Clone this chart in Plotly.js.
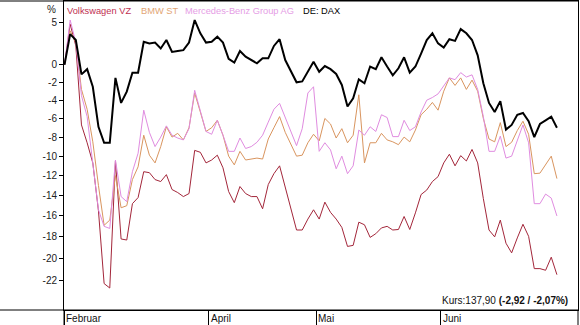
<!DOCTYPE html>
<html><head><meta charset="utf-8">
<script src="https://cdn.plot.ly/plotly-3.0.1.min.js"></script>
<style>html,body{margin:0;padding:0;background:#fff}#chart{width:580px;height:325px}</style>
</head><body><div id="chart"></div>
<script>
// Percent change since start (24.02.2022), one value per trading day
const vwVz = [0,4.8,2.2,-6.7,-8.6,-10.7,-15.5,-22.3,-22.7,-10.5,-18.2,-18.3,-14.8,-14.2,-11.6,-11.7,-12.4,-12.6,-11.9,-13.4,
  -13.7,-14.1,-13.8,-9.4,-9.6,-10.7,-10.4,-9.9,-11.2,-13.6,-14.7,-13.1,-13.8,-14.1,-14.1,-15.3,-12.9,-11.8,-11.0,-13.2,
  -15.2,-17.35,-17.35,-16.3,-15.4,-16.3,-14.65,-15.65,-16.3,-17.1,-18.9,-18.8,-16.6,-16.85,-18.05,-17.7,-17.15,-17.0,-17.35,-17.3,
  -16.05,-17.3,-15.7,-13.9,-13.45,-12.6,-12.1,-10.7,-9.8,-11.0,-9.95,-10.5,-9.3,-10.7,-14.3,-17.35,-18.0,-16.4,-18.6,-19.5,
  -18.1,-16.8,-17.95,-20.95,-20.95,-21.1,-19.9,-21.5];
const bmwSt = [0,4.0,2.6,-2.8,-5.0,-8.5,-13.0,-16.9,-16.4,-12.0,-15.2,-15.0,-12.4,-11.1,-7.8,-9.9,-10.7,-9.0,-6.9,-8.0,
  -7.6,-8.3,-7.0,-3.2,-5.3,-7.4,-7.0,-6.2,-7.8,-10.0,-10.9,-9.5,-10.4,-10.3,-10.2,-10.3,-8.2,-7.0,-5.8,-7.5,
  -8.8,-10.0,-9.9,-8.6,-7.7,-8.4,-6.0,-6.6,-8.1,-7.1,-8.6,-7.8,-3.4,-10.7,-8.6,-8.6,-7.6,-8.3,-8.5,-8.8,
  -8.0,-8.5,-7.25,-5.6,-5.0,-4.25,-5.1,-3.0,-1.5,-2.35,-1.5,-2.8,-1.75,-3.0,-6.0,-8.2,-8.5,-6.45,-9.0,-8.55,
  -7.3,-6.3,-7.7,-11.8,-11.75,-10.9,-10.0,-12.3];
const mercedes = [0,5.3,2.6,-3.5,-5.8,-10.5,-15.4,-17.0,-17.2,-10.4,-14.1,-14.6,-11.6,-9.7,-5.1,-7.5,-9.0,-8.0,-6.8,-7.8,
  -8.1,-8.3,-7.1,-2.9,-5.1,-7.4,-7.7,-6.2,-7.8,-9.5,-9.5,-8.1,-9.2,-9.0,-8.55,-7.8,-6.4,-5.0,-4.35,-5.9,
  -7.6,-8.9,-7.1,-3.2,-2.5,-9.5,-8.6,-9.35,-11.3,-10.0,-11.8,-11.0,-7.25,-7.8,-6.9,-7.4,-5.6,-5.9,-7.95,-7.95,
  -6.2,-7.3,-6.9,-5.3,-4.0,-3.7,-3.3,-2.4,-1.5,-1.7,-0.9,-1.4,-1.15,-2.8,-5.8,-9.5,-9.5,-7.9,-10.2,-10.0,
  -8.3,-6.7,-8.6,-14.8,-14.8,-13.85,-14.25,-16.0];
const daxIdx = [0,3.6,2.9,-1.1,-0.5,-2.5,-6.9,-8.6,-8.6,-1.5,-4.3,-3.05,-0.9,-0.9,2.7,2.5,2.6,1.9,2.9,1.5,
  1.6,1.7,2.6,5.3,3.7,2.6,2.7,3.3,2.6,0.7,0.25,1.6,0.94,0.56,0.17,0.75,0.75,2.2,3.0,0.55,
  -0.8,-2.0,-1.9,-0.7,0.36,-0.8,-0.14,-0.5,-1.05,-2.3,-4.7,-3.8,-1.66,-2.1,-0.2,-0.5,0.87,-0.2,-1.2,-0.4,
  0.87,-0.9,-0.2,1.3,2.9,3.7,2.5,2.0,3.0,2.8,4.2,3.7,2.9,1.1,-2.1,-4.3,-5.3,-4.1,-7.2,-6.7,
  -5.6,-5.4,-6.3,-8.0,-6.6,-6.2,-5.8,-7.0];

const seriesNames = ['Volkswagen VZ','BMW ST','Mercedes-Benz Group AG','DE: DAX'];
const monthNames = ['Februar','April','Mai','Juni'];
const monthStartIdx = [0,26,45,67];
const yTickPct = [5,0,-2,-4,-6,-8,-10,-12,-14,-16,-18,-20,-22];
const kursText = 'Kurs:137,90 <b>(-2,92 / -2,07%)</b>';

const days = vwVz.map((_, i) => i);
const lvl = p => 100 + p;

const lineColors = ['#a3263a','#d9955f','#e08ce0','#000000'];
const textColors = ['#c03052','#e2a574','#e59de5','#000000'];
const allSeries = [vwVz, bmwSt, mercedes, daxIdx];

const traces = allSeries.map((s, k) => ({
  x: days, y: s.map(lvl), type: 'scatter', mode: 'lines', name: seriesNames[k],
  line: {color: lineColors[k], width: k === 3 ? 2 : 1}, hoverinfo: 'skip'
}));

const W = 580, H = 325, L = 64, R = 2, T = 1, B = 15;
const PW = W - L - R, PH = H - T - B;
const px = 5.66; // pixels per trading day
const xr = [-0.5 / px, (PW - 0.5) / px];
const yTop = 2 + (64.8 - T) / 867 / Math.LN10;
const yBot = 2 - (T + PH - 64.8) / 867 / Math.LN10;

const bounds = monthStartIdx.map(i => i === 0 ? xr[0] + 0.005 : i - 0.5);
const fx = p => (p - L) / PW;
const fy = p => (T + PH - p) / PH;
const font = 'Liberation Sans, Arial, sans-serif';

const annotations = [];
const legendX = [66, 140, 184, 302];
seriesNames.forEach((n, k) => annotations.push({
  xref: 'paper', yref: 'paper', x: fx(legendX[k]), y: fy(10.5), xanchor: 'left', yanchor: 'middle',
  text: n, showarrow: false, font: {family: font, size: 9.3, color: textColors[k]}, borderpad: 0
}));
annotations.push({xref: 'paper', yref: 'paper', x: fx(57), y: fy(9), xanchor: 'right', yanchor: 'middle',
  text: '%', showarrow: false, font: {family: font, size: 10, color: '#222'}, borderpad: 0});
monthNames.forEach((m, k) => annotations.push({
  xref: 'x', yref: 'paper', x: bounds[k], y: fy(318), xanchor: 'left', yanchor: 'middle', xshift: 1,
  text: m, showarrow: false, font: {family: font, size: 10, color: '#111'}, borderpad: 0
}));
annotations.push({xref: 'paper', yref: 'paper', x: fx(569), y: fy(300), xanchor: 'right', yanchor: 'middle',
  text: kursText, showarrow: false, font: {family: font, size: 10, color: '#111'}, borderpad: 0});

const shapes = [
  {type: 'line', xref: 'paper', yref: 'paper', x0: fx(0), x1: 1, y0: 0, y1: 0, line: {color: '#000', width: 1}},
  {type: 'line', xref: 'paper', yref: 'paper', x0: fx(0), x1: 1, y0: 1, y1: 1, line: {color: '#000', width: 1}},
  {type: 'line', xref: 'paper', yref: 'paper', x0: 0, x1: 0, y0: fy(H), y1: 0, line: {color: '#000', width: 1}},
  {type: 'line', xref: 'paper', yref: 'paper', x0: 1, x1: 1, y0: fy(H), y1: 0, line: {color: '#000', width: 1}}
];

const layout = {
  width: W, height: H, margin: {l: L, r: R, t: T, b: B, pad: 0},
  paper_bgcolor: '#fff', plot_bgcolor: '#fff', showlegend: false,
  xaxis: {range: xr, showgrid: false, zeroline: false, showline: true, linecolor: '#000', linewidth: 1,
    mirror: true, tickmode: 'array', tickvals: bounds, ticks: 'outside', ticklen: 15, tickcolor: '#000',
    tickwidth: 1, showticklabels: false, fixedrange: true},
  yaxis: {type: 'log', range: [yBot, yTop], showgrid: false, zeroline: false, showline: true, linecolor: '#000',
    linewidth: 1, mirror: true, tickmode: 'array', tickvals: yTickPct.map(lvl), ticktext: yTickPct.map(String),
    ticks: 'outside', ticklen: 4, tickcolor: '#000', tickfont: {family: font, size: 10, color: '#222'}, fixedrange: true},
  annotations: annotations, shapes: shapes
};

Plotly.newPlot('chart', traces, layout, {displayModeBar: false, staticPlot: true});
</script></body></html>
